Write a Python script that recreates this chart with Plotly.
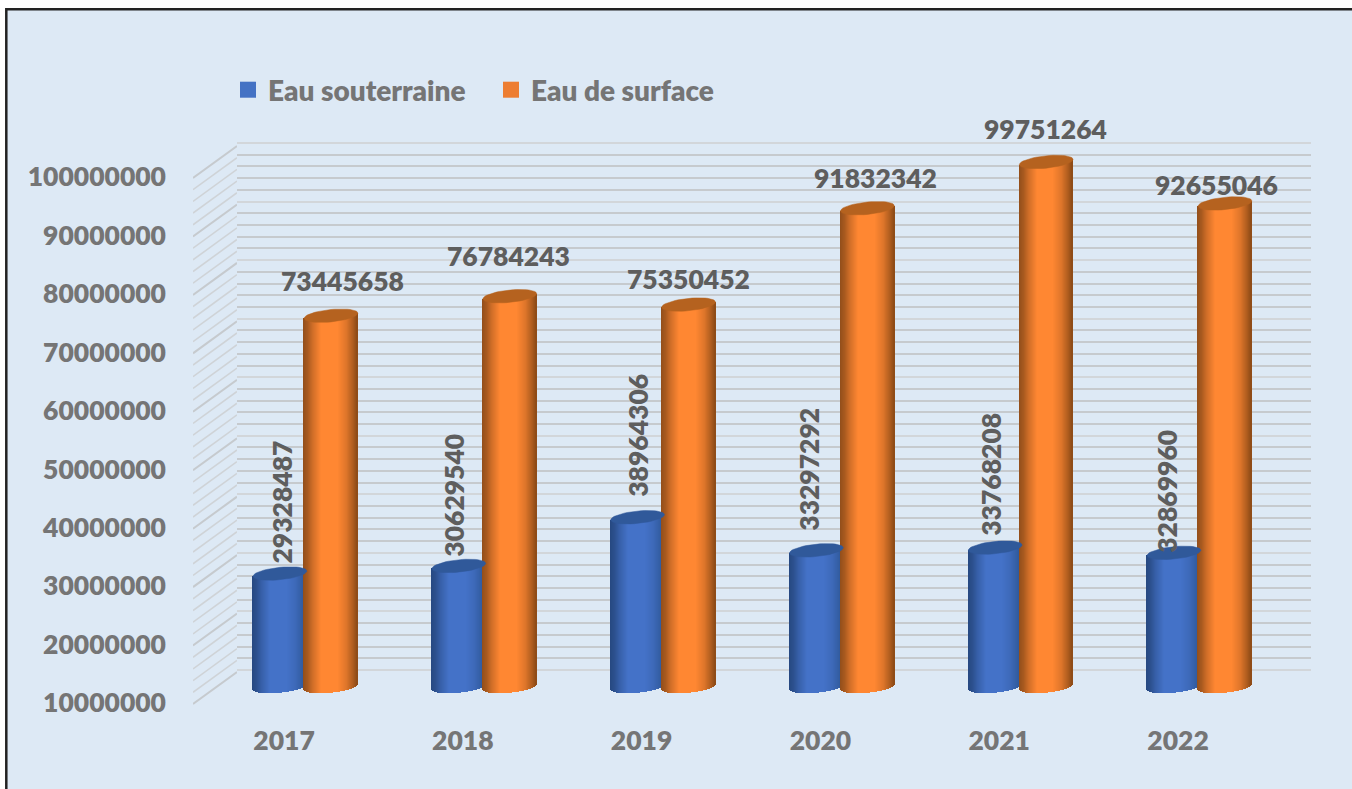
import math
import plotly.graph_objects as go

years = ["2017", "2018", "2019", "2020", "2021", "2022"]
eau_souterraine = [29328487, 30629540, 38964306, 33297292, 33768208, 32869960]
eau_surface = [73445658, 76784243, 75350452, 91832342, 99751264, 92655046]
value_ticks = [10000000, 20000000, 30000000, 40000000, 50000000, 60000000,
               70000000, 80000000, 90000000, 100000000]

# label offsets from the top of each cylinder, in pixels (hand placed in the original)
blue_label_dx = [2, -5, 1, -7, -5, -7]
blue_label_dy = [71, 71, 82, 81, 73, 61]
orange_label_dx = [11, -1, 0, 8, -1, -9]
orange_label_dy = [35, 40, 26, 30, 33, 18]

W, H = 1352, 789
STEP = 178.8            # px between categories
X0 = 304.0              # px of category 0 reference
K = 90e6 / 526          # value units per px
BASE = 10000000
BAR_BASE_PX = 686.5
LABEL_BASE_PX = 703
BLUE_CENTER = -24.0 / STEP
ORANGE_CENTER = 27.0 / STEP
R_PX = 26.85
B_PX = 6.2
SHEAR_PX = 2.6
FONT = "Lato"
WEIGHT = 800
N = 54
WALL_K = 90e6 / 527

SHADE_S = [-1, -0.83, -0.65, -0.33, 0.28, 0.6, 0.84, 1]
SHADE_T = [0, 0.2, 0.55, 1, 1, 0.72, 0.32, 0]


def shade(s, dark_l, light, dark_r):
    t = 0
    for a in range(len(SHADE_S) - 1):
        if SHADE_S[a] <= s <= SHADE_S[a + 1]:
            t = SHADE_T[a] + (SHADE_T[a + 1] - SHADE_T[a]) * (s - SHADE_S[a]) / (SHADE_S[a + 1] - SHADE_S[a])
            break
    d = dark_l if s < 0 else dark_r
    c = [round(d[i] + (light[i] - d[i]) * t) for i in range(3)]
    return f"rgb({c[0]},{c[1]},{c[2]})"


def cylinder_traces(values, center, dark_l, light, dark_r, top_color):
    xs, bases, heights, cols = [], [], [], []
    ex, ey = [], []
    dx = R_PX / STEP
    for i, v in enumerate(values):
        for j in range(N):
            s = -1 + (2 * j + 1) / N
            lower = (SHEAR_PX * s - B_PX * math.sqrt(max(0, 1 - s * s))) * K
            top = v + SHEAR_PX * s * K
            xs.append(i + center + s * dx)
            bases.append(BASE + lower)
            heights.append(top - (BASE + lower))
            cols.append(shade(s, dark_l, light, dark_r))
        for a in range(49):
            t = 2 * math.pi * a / 48
            c, sn = math.cos(t), math.sin(t)
            ex.append(i + center + c * dx)
            ey.append(v + (SHEAR_PX * c + B_PX * sn) * K)
        ex.append(None)
        ey.append(None)
    body = go.Bar(x=xs, y=heights, base=bases, width=[1.5 * 2 * dx / N] * len(xs),
                  marker=dict(color=cols, line=dict(width=0)),
                  xaxis="x2", yaxis="y2", showlegend=False, hoverinfo="skip")
    top_ = go.Scatter(x=ex, y=ey, mode="lines", fill="toself", fillcolor=top_color,
                      line=dict(color=top_color, width=0.5),
                      xaxis="x2", yaxis="y2", showlegend=False, hoverinfo="skip")
    return [body, top_]


fig = go.Figure()

# back wall anchor trace
fig.add_trace(go.Scatter(x=[0], y=[BASE], mode="none", xaxis="x", yaxis="y",
                         showlegend=False, hoverinfo="skip"))

fig.add_traces(cylinder_traces(eau_souterraine, BLUE_CENTER,
                               (38, 72, 128), (68, 114, 200), (44, 84, 146), "#30599A"))
fig.add_traces(cylinder_traces(eau_surface, ORANGE_CENTER,
                               (146, 78, 26), (255, 135, 50), (140, 74, 22), "#B5621F"))

# side wall lines (front edge at 702 px, depth 32 px)
depth = 32 * K
shift = (LABEL_BASE_PX - 702) * K
minor_x, minor_y, major_x, major_y = [], [], [], []
for v in range(BASE, 100000001, 2000000):
    if v % 10000000 == 0:
        major_x += [0, 1, None]
        major_y += [v - shift, v - shift + depth, None]
    else:
        minor_x += [0, 1, None]
        minor_y += [v - shift, v - shift + depth, None]
fig.add_trace(go.Scatter(x=minor_x, y=minor_y, mode="lines", xaxis="x3", yaxis="y3",
                         line=dict(color="#CFD3D7", width=1.6), showlegend=False, hoverinfo="skip"))
fig.add_trace(go.Scatter(x=major_x, y=major_y, mode="lines", xaxis="x3", yaxis="y3",
                         line=dict(color="#C6CACE", width=2), showlegend=False, hoverinfo="skip"))

# legend entries
fig.add_trace(go.Scatter(x=[None], y=[None], mode="markers", name="Eau souterraine",
                         marker=dict(symbol="square", size=16, color="#4472C4"),
                         xaxis="x3", yaxis="y3"))
fig.add_trace(go.Scatter(x=[None], y=[None], mode="markers", name="Eau de surface",
                         marker=dict(symbol="square", size=16, color="#ED7D31"),
                         xaxis="x3", yaxis="y3"))

LABEL_FONT = dict(family=FONT, size=26.5, color="#5E5E5E", weight=WEIGHT)
annotations = []
for i, v in enumerate(eau_souterraine):
    annotations.append(dict(x=i + BLUE_CENTER, y=v, xref="x2", yref="y2", text=str(v),
                            showarrow=False, textangle=-90, xshift=blue_label_dx[i],
                            yshift=blue_label_dy[i], xanchor="center", yanchor="middle",
                            font=LABEL_FONT))
for i, v in enumerate(eau_surface):
    annotations.append(dict(x=i + ORANGE_CENTER, y=v, xref="x2", yref="y2", text=str(v),
                            showarrow=False, xshift=orange_label_dx[i],
                            yshift=orange_label_dy[i], xanchor="center", yanchor="middle",
                            font=LABEL_FONT))

AXIS_FONT = dict(family=FONT, size=26.5, color="#757575", weight=WEIGHT)

fig.update_layout(
    width=W, height=H, margin=dict(l=0, r=0, t=0, b=0, pad=0),
    paper_bgcolor="white", plot_bgcolor="rgba(0,0,0,0)",
    barmode="overlay", bargap=0,
    font=dict(family=FONT, color="#757575", size=26, weight=WEIGHT),
    annotations=annotations,
    shapes=[dict(type="rect", xref="paper", yref="paper", layer="below",
                 x0=6.3 / W, x1=1.1, y0=1 - 9.3 / H, y1=-0.1,
                 fillcolor="#DDE9F5", line=dict(color="#222222", width=2.5))],
    legend=dict(orientation="h", x=228 / W, y=1 - 65 / H, xanchor="left", yanchor="top",
                entrywidth=218, entrywidthmode="pixels", bgcolor="rgba(0,0,0,0)",
                font=dict(family=FONT, size=28, color="#757575", weight=WEIGHT),
                itemsizing="trace", traceorder="normal"),
    xaxis=dict(domain=[237 / W, 1311 / W], range=[0, 1], visible=False, fixedrange=True),
    yaxis=dict(domain=[1 - 672 / H, 1 - 141 / H],
               range=[BASE - 2 * WALL_K, 100000000 + 2 * WALL_K], anchor="x",
               showgrid=True, gridcolor="#D2D6DA", gridwidth=2.4, dtick=10000000,
               tick0=0, showticklabels=False, ticks="", zeroline=False, showline=False,
               minor=dict(dtick=2000000, showgrid=True, gridcolor="#C6CACE", gridwidth=1.5, ticks="")),
    xaxis2=dict(domain=[0, 1], range=[(0 - X0) / STEP, (W - X0) / STEP], anchor="free",
                position=1 - 722 / H, tickmode="array",
                tickvals=[i - 20 / STEP for i in range(len(years))], ticktext=years,
                ticks="", showgrid=False, zeroline=False, showline=False,
                tickfont=AXIS_FONT),
    yaxis2=dict(domain=[0, 1], anchor="x2",
                range=[BASE + (BAR_BASE_PX - H) * K, BASE + BAR_BASE_PX * K],
                visible=False, showgrid=False, zeroline=False),
    xaxis3=dict(domain=[193 / W, 237 / W], range=[0, 1], anchor="y3", visible=False),
    yaxis3=dict(domain=[0, 1], anchor="x3",
                range=[BASE + (LABEL_BASE_PX - H) * K, BASE + LABEL_BASE_PX * K],
                tickmode="array", tickvals=value_ticks, ticktext=[str(t) for t in value_ticks],
                ticks="", showgrid=False, zeroline=False, showline=False,
                ticklabelstandoff=26,
                tickfont=AXIS_FONT),
)

fig.write_html("out.html", config={"displayModeBar": False},
               post_script="document.body.style.margin='0';document.body.style.overflow='hidden';")
